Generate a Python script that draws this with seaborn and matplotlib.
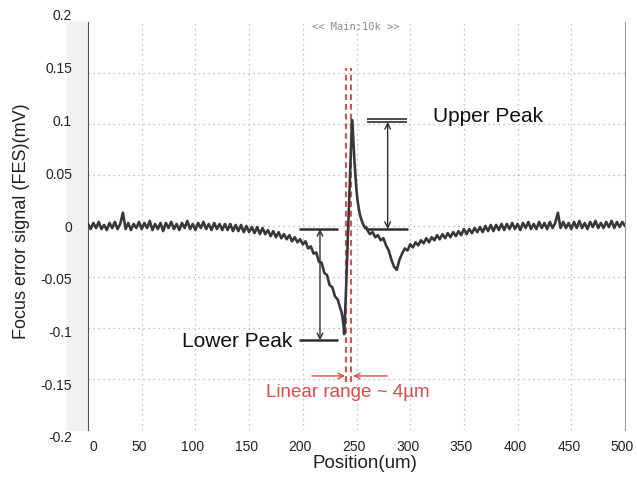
import numpy as np
import matplotlib
matplotlib.use("Agg")
import matplotlib.pyplot as plt
import matplotlib.transforms as mtransforms
from matplotlib.patches import Rectangle
import seaborn as sns

# ---- data (FES in units of 1e-3 mV) ----
pos_left = np.arange(0, 235.1, 2.5)
fes_left = [2, -3, 3, -2, 4, -3, 1, -4, 3, -2,
            4, -3, 2, 13, -3, 3, -4, 2, -2, 4,
            -3, 3, -2, 5, -4, 2, -3, 3, -5, 3,
            -2, 4, -3, 2, -4, 3, -2, 5, -3, 2,
            -4, 3, -2, 4, -3, 2, -4, 3, -3, 2,
            -4, 2, -4, 2, -5, 1, -5, 1, -6, 0,
            -6, -1, -7, -1, -8, -2, -8, -4, -10, -5,
            -11, -6, -12, -8, -13, -9, -15, -11, -16, -13,
            -18, -15, -22, -20, -27, -26, -35, -36, -46, -48,
            -58, -60, -69, -72, -81]

pos_peak = [236, 237, 238, 238.5, 239, 240, 241, 242, 243, 244,
            245, 245.8, 246.5, 247, 248, 249, 250, 251, 252, 253,
            254, 255, 256, 257, 258, 259, 260]
fes_peak = [-84, -90, -98, -106, -95, -70, -40, -10, 20, 50,
            80, 104, 95, 85, 65, 50, 35, 25, 18, 12,
            8, 5, 2, 0, -2, -1, -4]

pos_right = np.arange(262.5, 500.1, 2.5)
fes_right = [-8, -6, -11, -9, -14, -12, -19, -24, -33, -40,
             -43, -33, -27, -22, -24, -18, -21, -16, -19, -14,
             -17, -12, -16, -11, -14, -9, -13, -8, -12, -7,
             -11, -6, -10, -5, -9, -3, -8, -3, -7, -2,
             -6, -1, -6, 0, -5, 1, -5, 1, -4, 2,
             -4, 2, -3, 3, -3, 2, -4, 3, -2, 4,
             -3, 2, -3, 4, -2, 3, -3, 4, -2, 3,
             13, -2, 4, -2, 3, -3, 4, -2, 5, -2,
             3, -3, 4, -1, 5, -2, 3, -2, 4, -1,
             5, -2, 4, -1, 4, 0]

xticks = [0, 50, 100, 150, 200, 250, 300, 350, 400, 450, 500]
yticks = [-0.2, -0.15, -0.1, -0.05, 0, 0.05, 0.1, 0.15, 0.2]
ytick_labels = ["-0.2", "-0.15", "-0.1", "-0.05", "0", "0.05", "0.1", "0.15", "0.2"]

pos = np.concatenate([pos_left, pos_peak, pos_right])
fes = np.array(fes_left + fes_peak + fes_right) / 1000.0

sns.set_style("white")
plt.rcParams['font.family'] = ['Liberation Sans', 'DejaVu Sans']

fig = plt.figure(figsize=(6.37, 4.83), dpi=100)
ax = fig.add_axes([88/637, 53/483, 537/637, 408/483])

# light grey strip behind the y tick labels
fig.patches.append(Rectangle((67/637, 53/483), 21/637, 408/483,
                             transform=fig.transFigure, color='#f1f1f1', zorder=-1))

sns.lineplot(x=pos, y=fes, ax=ax, color='#383838', linewidth=1.9, sort=False, zorder=3)

ax.set_xlim(0, 500)
ax.set_ylim(-0.2, 0.2)
ax.set_xticks(xticks)
ax.set_xticklabels([str(t) for t in xticks])
ax.set_yticks(yticks)
ax.set_yticklabels(ytick_labels)
ax.tick_params(axis='both', length=0, labelsize=10, colors='#222222')
ax.tick_params(axis='y', pad=11.5)
ax.tick_params(axis='x', pad=7)
ax.set_yticks([0], minor=True)
ax.tick_params(axis='y', which='minor', length=9, width=1, color='#444444')

# spread the tick labels a little like the scope screen
for lab, v in zip(ax.get_yticklabels(), yticks):
    lab.set_transform(lab.get_transform() + mtransforms.ScaledTranslation(0, v / 0.2 * 0.07, fig.dpi_scale_trans))
for lab, v in zip(ax.get_xticklabels(), xticks):
    dx = 0.05 if v == 0 else -0.025
    lab.set_transform(lab.get_transform() + mtransforms.ScaledTranslation(dx, 0, fig.dpi_scale_trans))

# dotted grid, no top/bottom frame
for g in xticks[1:-1]:
    ax.axvline(g, color='#b0b0b0', lw=0.9, ls=(0, (1, 3)), zorder=1)
for g in yticks[1:-1]:
    ax.axhline(g, color='#b0b0b0', lw=0.9, ls=(0, (1, 3)), zorder=1)
ax.spines['top'].set_visible(False)
ax.spines['bottom'].set_visible(False)
ax.spines['left'].set_color('#555555')
ax.spines['right'].set_color('#9a9a9a')

ax.set_xlabel('Position(um)', fontsize=13.5, color='#222222', va='center')
ax.xaxis.set_label_coords(0.516, -0.083)
ax.set_ylabel('Focus error signal (FES)(mV)', fontsize=13, color='#222222', va='center')
ax.yaxis.set_label_coords(-0.123, 0.512)

ax.text(249, 0.195, '<< Main:10k >>', fontsize=7.5, color='#8a8a8a',
        family='DejaVu Sans Mono', ha='center', va='center')

# peak markers
dark = '#2e2e2e'
ax.hlines([-0.003, -0.112], 196, 233, color=dark, lw=1.8, zorder=4)
ax.annotate('', xy=(216, -0.003), xytext=(216, -0.112),
            arrowprops=dict(arrowstyle='<->', color=dark, lw=1, shrinkA=0, shrinkB=0))
ax.hlines([0.1045, 0.1020], 260, 297, color=dark, lw=1.2, zorder=4)
ax.hlines(-0.003, 260, 298, color=dark, lw=1.8, zorder=4)
ax.annotate('', xy=(279, 0.102), xytext=(279, -0.003),
            arrowprops=dict(arrowstyle='<->', color=dark, lw=1, shrinkA=0, shrinkB=0))
ax.text(190, -0.113, 'Lower Peak', fontsize=15, color='#111111', ha='right', va='center')
ax.text(321, 0.107, 'Upper Peak', fontsize=15, color='#111111', ha='left', va='center')

# linear range
red = '#e5484a'
ax.vlines([240.2, 244.9], -0.153, 0.155, color=red, lw=1.4, ls=(0, (3, 2)), zorder=2)
ax.annotate('', xy=(239.3, -0.147), xytext=(208.6, -0.147),
            arrowprops=dict(arrowstyle='->', color=red, lw=1, shrinkA=0, shrinkB=0))
ax.annotate('', xy=(246.8, -0.147), xytext=(278.5, -0.147),
            arrowprops=dict(arrowstyle='->', color=red, lw=1, shrinkA=0, shrinkB=0))
ax.text(242, -0.1635, 'Linear range ~ 4\u00b5m', fontsize=13.5, color=red, ha='center', va='center')

fig.savefig('out.png', dpi=100)
